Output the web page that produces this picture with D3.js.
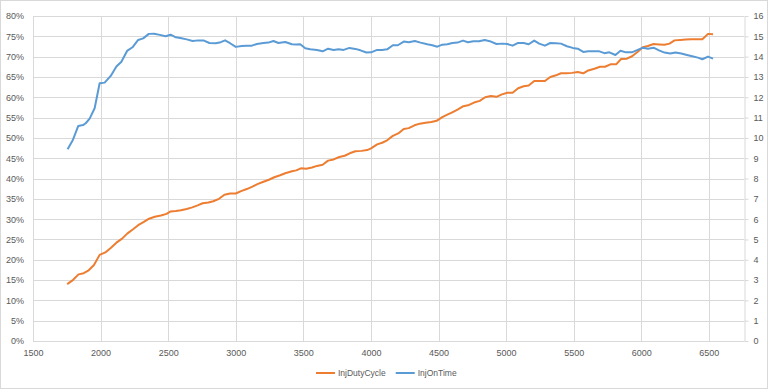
<!DOCTYPE html>
<html>
<head>
<meta charset="utf-8">
<script src="https://cdn.jsdelivr.net/npm/d3@7"></script>
<style>
  body { margin: 0; background: #fff; }
  svg text { font-family: "Liberation Sans", Arial, sans-serif; fill: #595959; }
</style>
</head>
<body>
<script>
// InjOnTime (right axis, ms): rpm / value
var onTimeRpm = [1756,1795,1835,1870,1890,1919,1956,1993,2030,2075,2117,2154,2196,2236,2278,2315,2357,2396,2438,2481,2518,2557,2599,2637,2681,2723,2765,2805,2852,2889,2921,2958,3000,3044,3082,3119,3156,3205,3242,3279,3316,3366,3416,3447,3477,3514,3551,3601,3643,3683,3724,3761,3798,3841,3885,3922,3967,4001,4046,4083,4120,4162,4199,4243,4280,4325,4367,4417,4454,4491,4528,4565,4602,4640,4681,4718,4758,4800,4842,4879,4929,4973,5010,5048,5085,5130,5167,5208,5245,5287,5327,5369,5406,5450,5493,5530,5571,5608,5653,5690,5727,5764,5809,5846,5887,5930,5974,6012,6049,6091,6131,6172,6214,6253,6296,6338,6377,6419,6452,6494,6531];
var onTimeVal = [9.44,9.90,10.59,10.63,10.72,10.95,11.46,12.69,12.72,13.05,13.51,13.75,14.28,14.46,14.82,14.90,15.12,15.13,15.07,15.00,15.08,14.95,14.90,14.85,14.77,14.80,14.79,14.67,14.66,14.71,14.80,14.66,14.48,14.52,14.53,14.54,14.62,14.67,14.69,14.77,14.67,14.72,14.61,14.60,14.61,14.41,14.36,14.33,14.26,14.39,14.33,14.36,14.33,14.43,14.38,14.31,14.20,14.21,14.33,14.33,14.36,14.56,14.56,14.74,14.71,14.77,14.69,14.61,14.56,14.49,14.59,14.61,14.67,14.69,14.79,14.71,14.76,14.76,14.82,14.76,14.62,14.64,14.62,14.54,14.67,14.67,14.61,14.79,14.64,14.54,14.67,14.66,14.64,14.51,14.43,14.39,14.23,14.26,14.26,14.26,14.17,14.21,14.08,14.29,14.21,14.21,14.33,14.44,14.39,14.44,14.31,14.20,14.15,14.20,14.15,14.08,14.02,13.95,13.87,14.00,13.90];

// InjDutyCycle (left axis, %)
var dutyRpm = [1753,1795,1837,1875,1912,1951,1993,2035,2075,2117,2159,2199,2240,2278,2320,2359,2401,2446,2488,2518,2557,2594,2637,2678,2718,2755,2797,2834,2876,2916,2958,3000,3039,3082,3123,3160,3205,3245,3285,3328,3366,3416,3447,3482,3521,3564,3601,3643,3683,3724,3766,3806,3843,3885,3930,3972,4001,4046,4083,4120,4162,4202,4243,4280,4322,4362,4404,4447,4486,4528,4565,4602,4644,4684,4726,4763,4805,4845,4887,4929,4969,5010,5048,5089,5130,5167,5208,5245,5287,5327,5369,5406,5448,5488,5530,5571,5608,5653,5695,5732,5772,5814,5851,5893,5932,5974,6012,6049,6091,6131,6172,6209,6246,6288,6328,6370,6412,6452,6494,6531];
var dutyVal = [14.0,15.0,16.4,16.7,17.4,18.7,21.2,21.8,22.9,24.2,25.2,26.5,27.5,28.5,29.3,30.1,30.6,30.9,31.3,31.9,32.0,32.2,32.5,32.9,33.4,33.9,34.1,34.4,35.0,36.0,36.3,36.3,36.9,37.4,38.0,38.6,39.2,39.7,40.3,40.8,41.3,41.8,42.0,42.5,42.4,42.7,43.1,43.4,44.4,44.7,45.3,45.6,46.2,46.7,46.8,47.0,47.4,48.4,48.8,49.4,50.5,51.1,52.2,52.4,53.1,53.5,53.7,53.9,54.2,55.1,55.7,56.3,57.0,57.8,58.1,58.7,59.1,60.0,60.3,60.1,60.7,61.1,61.1,62.2,62.7,62.9,64.0,64.0,64.0,65.0,65.4,65.9,65.9,66.0,66.2,65.9,66.6,67.0,67.5,67.5,68.1,68.1,69.4,69.5,70.1,71.2,72.3,72.6,73.1,73.0,72.9,73.2,74.0,74.1,74.2,74.3,74.3,74.3,75.6,75.5];

var xTicks = [1500,2000,2500,3000,3500,4000,4500,5000,5500,6000,6500];
var leftTicks = [0,5,10,15,20,25,30,35,40,45,50,55,60,65,70,75,80];
var rightTicks = [0,1,2,3,4,5,6,7,8,9,10,11,12,13,14,15,16];
var seriesNames = ["InjDutyCycle", "InjOnTime"];
var seriesColors = ["#ED7D31", "#5B9BD5"];

var W = 769, H = 392;
var margin = {top: 16, right: 25, bottom: 51, left: 33};
var width = W - margin.left - margin.right,
    height = H - margin.top - margin.bottom;

var svg = d3.select("body").append("svg")
  .attr("width", W)
  .attr("height", H);

// chart border
svg.append("rect")
  .attr("x", 0.5).attr("y", 0.5)
  .attr("width", W - 2).attr("height", H - 4)
  .attr("fill", "#fff")
  .attr("stroke", "#D9D9D9");

var g = svg.append("g")
  .attr("transform", "translate(" + margin.left + "," + margin.top + ")");

// scales
var x = d3.scaleLinear().domain([1500, 6760]).range([0, width]);
var yL = d3.scaleLinear().domain([0, 80]).range([height, 0]);
var yR = d3.scaleLinear().domain([0, 16]).range([height, 0]);

// horizontal gridlines
g.append("g")
  .selectAll("line")
  .data(leftTicks)
  .enter()
  .append("line")
  .attr("x1", 0).attr("x2", width)
  .attr("y1", function(d) { return Math.round(yL(d)) + 0.5; })
  .attr("y2", function(d) { return Math.round(yL(d)) + 0.5; })
  .attr("stroke", "#D9D9D9");

// vertical gridlines
g.append("g")
  .selectAll("line")
  .data(xTicks)
  .enter()
  .append("line")
  .attr("x1", function(d) { return Math.round(x(d)) + 0.5; })
  .attr("x2", function(d) { return Math.round(x(d)) + 0.5; })
  .attr("y1", 0).attr("y2", height)
  .attr("stroke", "#D9D9D9");

// x axis
var xAxis = g.append("g")
  .attr("transform", "translate(0," + height + ")")
  .call(d3.axisBottom(x).tickValues(xTicks).tickSize(0).tickPadding(9).tickFormat(d3.format("d")));
xAxis.select(".domain").attr("stroke", "#D9D9D9");

// left axis
var lAxis = g.append("g")
  .call(d3.axisLeft(yL).tickValues(leftTicks).tickSize(0).tickPadding(9)
    .tickFormat(function(d) { return d + "%"; }));
lAxis.select(".domain").remove();

// right axis
var rAxis = g.append("g")
  .attr("transform", "translate(" + (width + 0.5) + ",0)")
  .call(d3.axisRight(yR).tickValues(rightTicks).tickSize(4).tickSizeOuter(0).tickPadding(5));
rAxis.select(".domain").attr("stroke", "#D9D9D9");
rAxis.selectAll(".tick line").attr("stroke", "#D9D9D9");

svg.selectAll(".tick text")
  .attr("font-size", "9px")
  .attr("fill", "#595959")
  .style("font-family", "'Liberation Sans', Arial, sans-serif");

// lines
var dutyLine = d3.line()
  .x(function(d, i) { return x(dutyRpm[i]); })
  .y(function(d) { return yL(d); });
var onTimeLine = d3.line()
  .x(function(d, i) { return x(onTimeRpm[i]); })
  .y(function(d) { return yR(d); });

g.append("path")
  .datum(dutyVal)
  .attr("d", dutyLine)
  .attr("fill", "none")
  .attr("stroke", seriesColors[0])
  .attr("stroke-width", 2)
  .attr("stroke-linejoin", "round");

g.append("path")
  .datum(onTimeVal)
  .attr("d", onTimeLine)
  .attr("fill", "none")
  .attr("stroke", seriesColors[1])
  .attr("stroke-width", 2)
  .attr("stroke-linejoin", "round");

// legend, centred under the plot
var legend = svg.append("g").attr("transform", "translate(0,373)");
var lx = 0;
seriesNames.forEach(function(name, i) {
  legend.append("line")
    .attr("x1", lx).attr("x2", lx + 19)
    .attr("y1", 0).attr("y2", 0)
    .attr("stroke", seriesColors[i])
    .attr("stroke-width", 2);
  var t = legend.append("text")
    .attr("x", lx + 22)
    .attr("y", 3)
    .attr("font-size", "8.5px")
    .text(name);
  lx += 22 + t.node().getComputedTextLength() + 10;
});
var legW = lx - 10;
legend.attr("transform", "translate(" + Math.round(386 - legW / 2) + ",373)");
</script>
</body>
</html>
